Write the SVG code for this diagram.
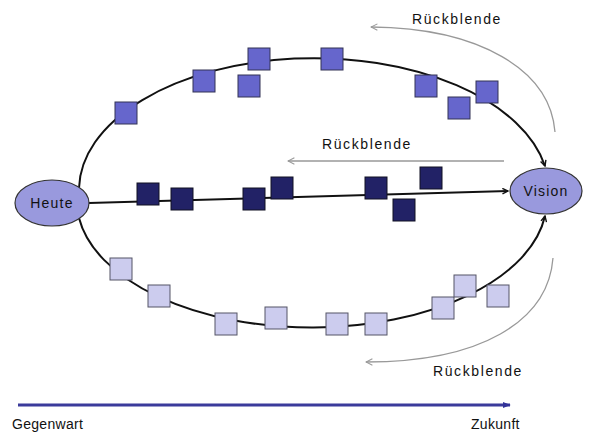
<svg xmlns="http://www.w3.org/2000/svg" width="608" height="434" viewBox="0 0 608 434">
<style>
text{font-family:"Liberation Sans",Arial,sans-serif;font-size:14px;fill:#111}
.rb{letter-spacing:1.6px}
.node{fill:#9999dd;stroke:#333;stroke-width:1.2}
.path{fill:none;stroke:#111;stroke-width:2}
.back{fill:none;stroke:#999;stroke-width:1.3}
.sq1{fill:#6666cc;stroke:#333355;stroke-width:1}
.sq2{fill:#222266;stroke:#111122;stroke-width:1}
.sq3{fill:#ccccee;stroke:#555566;stroke-width:1}
</style>
<defs>
<marker id="ah" viewBox="0 0 10 10" refX="9" refY="5" markerWidth="7" markerHeight="7" orient="auto" markerUnits="userSpaceOnUse">
<path d="M1,1 L9,5 L1,9" fill="none" stroke="#111" stroke-width="2"/>
</marker>
<marker id="ag" viewBox="0 0 10 10" refX="9" refY="5" markerWidth="8" markerHeight="8" orient="auto" markerUnits="userSpaceOnUse">
<path d="M1,1 L9,5 L1,9" fill="none" stroke="#999" stroke-width="1.3"/>
</marker>
<marker id="at" viewBox="0 0 10 10" refX="9" refY="5" markerWidth="8" markerHeight="8" orient="auto" markerUnits="userSpaceOnUse">
<path d="M0,1 L10,5 L0,9 Z" fill="#333399"/>
</marker>
</defs>
<g id="connectors">
<path class="path" d="M79,188 A235,132 0 0 1 545,166" marker-end="url(#ah)"/>
<path class="path" d="M79,218 A235,127 0 0 0 545,216" marker-end="url(#ah)"/>
<path class="path" d="M89,203 L508,191" marker-end="url(#ah)"/>
<path class="back" d="M555,132 C550,70 480,28 371,27" marker-end="url(#ag)"/>
<path class="back" d="M504,161 L288,161" marker-end="url(#ag)"/>
<path class="back" d="M553,258 C548,322 480,362 366,362" marker-end="url(#ag)"/>
<path d="M18,405 L510,405" stroke="#3b3b9b" stroke-width="3" fill="none" marker-end="url(#at)"/>
</g>
<g id="top-steps">
<rect class="sq1" x="115" y="102" width="22" height="22"/>
<rect class="sq1" x="193" y="70" width="22" height="22"/>
<rect class="sq1" x="248" y="48" width="22" height="22"/>
<rect class="sq1" x="238" y="75" width="22" height="22"/>
<rect class="sq1" x="321" y="48" width="22" height="22"/>
<rect class="sq1" x="415" y="75" width="22" height="22"/>
<rect class="sq1" x="448" y="97" width="22" height="22"/>
<rect class="sq1" x="476" y="81" width="22" height="22"/>
</g>
<g id="middle-steps">
<rect class="sq2" x="137" y="183" width="22" height="22"/>
<rect class="sq2" x="171" y="188" width="22" height="22"/>
<rect class="sq2" x="243" y="188" width="22" height="22"/>
<rect class="sq2" x="271" y="177" width="22" height="22"/>
<rect class="sq2" x="365" y="177" width="22" height="22"/>
<rect class="sq2" x="393" y="199" width="22" height="22"/>
<rect class="sq2" x="420" y="167" width="22" height="22"/>
</g>
<g id="bottom-steps">
<rect class="sq3" x="110" y="258" width="22" height="22"/>
<rect class="sq3" x="148" y="285" width="22" height="22"/>
<rect class="sq3" x="215" y="313" width="22" height="22"/>
<rect class="sq3" x="265" y="307" width="22" height="22"/>
<rect class="sq3" x="326" y="313" width="22" height="22"/>
<rect class="sq3" x="365" y="313" width="22" height="22"/>
<rect class="sq3" x="432" y="297" width="22" height="22"/>
<rect class="sq3" x="454" y="275" width="22" height="22"/>
<rect class="sq3" x="487" y="285" width="22" height="22"/>
</g>
<g id="heute">
<ellipse class="node" cx="52" cy="203" rx="37" ry="23"/>
<text x="52" y="208" text-anchor="middle" style="letter-spacing:1.2px">Heute</text>
</g>
<g id="vision">
<ellipse class="node" cx="546" cy="191" rx="36" ry="23"/>
<text x="546" y="196" text-anchor="middle" style="letter-spacing:1.2px">Vision</text>
</g>
<g id="labels">
<text class="rb" x="412" y="24">Rückblende</text>
<text class="rb" x="322" y="149">Rückblende</text>
<text class="rb" x="433" y="376">Rückblende</text>
<text x="12" y="429" style="letter-spacing:0.3px">Gegenwart</text>
<text x="471" y="429" style="letter-spacing:0.3px">Zukunft</text>
</g>
</svg>
